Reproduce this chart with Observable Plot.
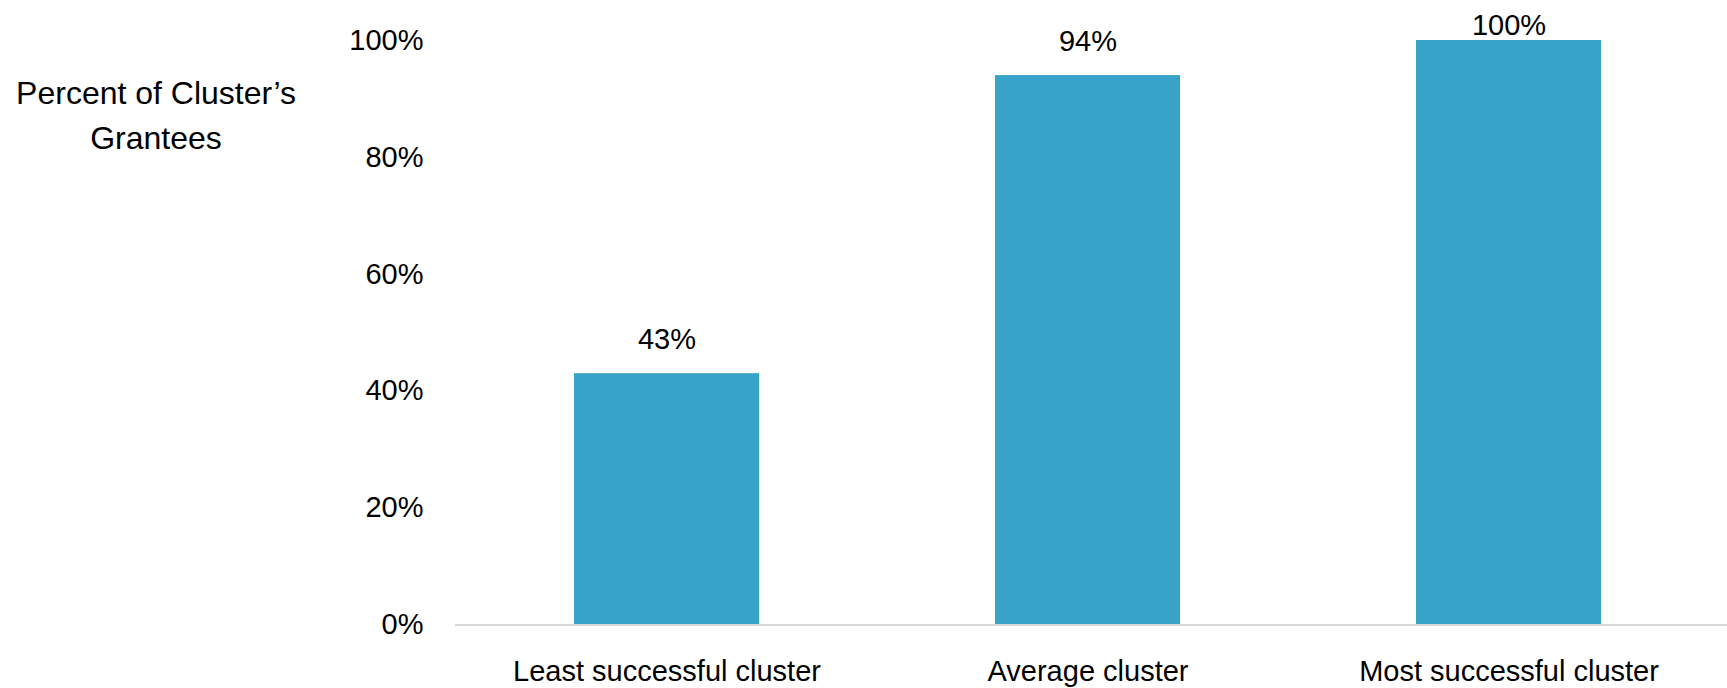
<!DOCTYPE html>
<html><head><meta charset="utf-8">
<script src="https://cdn.jsdelivr.net/npm/d3@7"></script>
<script src="https://cdn.jsdelivr.net/npm/@observablehq/plot@0.6"></script>
<style>
body{margin:0;background:#fff;font-family:"Liberation Sans",Arial,sans-serif;}
#wrap{position:relative;width:1727px;height:688px;}
#ytitle{position:absolute;left:0;top:71px;width:312px;text-align:center;font-size:32px;line-height:45px;color:#000;}
</style></head><body>
<div id="wrap"><div id="ytitle">Percent of Cluster’s<br>Grantees</div></div>
<script>
const categories = ["Least successful cluster", "Average cluster", "Most successful cluster"];
const values = [43, 94, 100];
const yTicks = [0, 20, 40, 60, 80, 100];
const data = categories.map((c, i) => ({category: c, value: values[i]}));
const chart = Plot.plot({
  width: 1727, height: 688,
  marginLeft: 455, marginRight: 0, marginTop: 40, marginBottom: 63.5,
  style: {fontFamily: '"Liberation Sans", Arial, sans-serif', fontSize: "29px", color: "#000", background: "transparent"},
  x: {domain: categories, range: [455, 1719], paddingInner: 0.561, paddingOuter: 0.2805, label: null},
  y: {domain: [0, 100], label: null},
  marks: [
    Plot.barY(data, {x: "category", y: "value", fill: "#37a3c9"}),
    Plot.ruleY([0], {stroke: "#d9d9d9", strokeWidth: 2}),
    Plot.axisY({ticks: yTicks, tickFormat: d => d + "%", tickSize: 0, tickPadding: 32, fontSize: 29, label: null}),
    Plot.axisX({tickSize: 0, tickPadding: 35, fontSize: 29, label: null}),
    Plot.text(data, {x: "category", y: d => Math.min(d.value + 4.2, 100.9), text: d => d.value + "%", lineAnchor: "bottom", fontSize: 29, fill: "#000"})
  ]
});
chart.style.position = "absolute";
chart.style.left = "0";
chart.style.top = "0";
document.getElementById("wrap").appendChild(chart);
</script>
</body></html>
